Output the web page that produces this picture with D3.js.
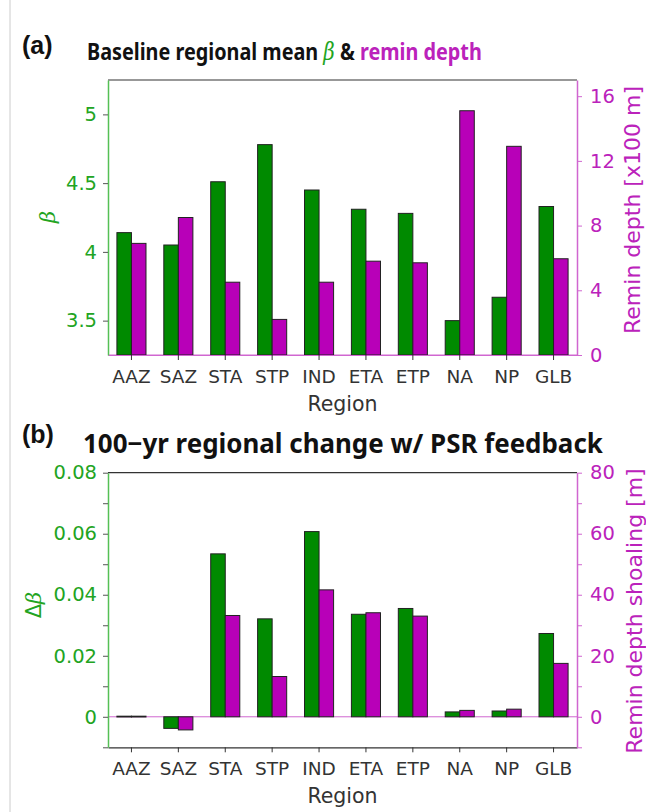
<!DOCTYPE html>
<html><head><meta charset="utf-8">
<script src="https://cdn.jsdelivr.net/npm/d3@7"></script>
<style>body{margin:0;background:#fff}svg{display:block}</style>
</head><body>
<script>
const regions = ["AAZ","SAZ","STA","STP","IND","ETA","ETP","NA","NP","GLB"];
const betaBase = [4.14,4.05,4.51,4.78,4.45,4.31,4.28,3.50,3.67,4.33];
const reminBase = [6.9,8.5,4.5,2.2,4.5,5.8,5.7,15.1,12.9,5.95];
const dBeta = [0.0002,-0.0038,0.0534,0.0321,0.0607,0.0336,0.0355,0.0016,0.0019,0.0273];
const dRemin = [0.2,-4.3,33.2,13.2,41.6,34.1,33.0,2.1,2.5,17.5];
const betaTicks = [3.5,4,4.5,5];
const reminTicks = [0,4,8,12,16];
const dBetaTicks = [0,0.02,0.04,0.06,0.08];
const dBetaMinor = [-0.01,0.01,0.03,0.05,0.07];
const dReminTicks = [0,20,40,60,80];
const dReminMinor = [-10,10,30,50,70];

const W=646,H=812;
const GREEN="#008a00", MAG="#b800b8", GTXT="#22a422", MTXT="#bb22bb", GAX="#55c055", MAX="#d066d0";
const FONT="DejaVu Sans, sans-serif";
const TFONT="Noto Sans, Open Sans, sans-serif";
const svg=d3.select("body").append("svg").attr("width",W).attr("height",H);
svg.append("line").attr("x1",10).attr("x2",10).attr("y1",0).attr("y2",H).attr("stroke","#ccc");

const L=108,R=577;
const x=d3.scaleBand().domain(regions).range([L,R]).padding(0);
const bw=x.bandwidth()*0.31;

function panel(o){
  const g=svg.append("g");
  const yl=d3.scaleLinear().domain(o.ldom).range([o.bot,o.top]);
  const yr=d3.scaleLinear().domain(o.rdom).range([o.bot,o.top]);
  g.append("line").attr("x1",L).attr("x2",R).attr("y1",o.top).attr("y2",o.top).attr("stroke","#333").attr("stroke-width",1.2);
  g.append("line").attr("x1",L).attr("x2",R).attr("y1",yr(0)).attr("y2",yr(0)).attr("stroke",MAX).attr("stroke-width",1);
  const lb=o.lbase;
  g.selectAll(".gb").data(o.lv).join("rect")
    .attr("x",(d,i)=>x(regions[i])+x.bandwidth()/2-bw).attr("width",bw)
    .attr("y",d=>Math.min(yl(d),yl(lb))).attr("height",d=>Math.max(0.8,Math.abs(yl(d)-yl(lb))))
    .attr("fill",GREEN).attr("stroke","#222").attr("stroke-width",1);
  g.selectAll(".mb").data(o.rv).join("rect")
    .attr("x",(d,i)=>x(regions[i])+x.bandwidth()/2).attr("width",bw)
    .attr("y",d=>Math.min(yr(d),yr(0))).attr("height",d=>Math.max(0.8,Math.abs(yr(d)-yr(0))))
    .attr("fill",MAG).attr("stroke","#222").attr("stroke-width",1);
  const bx=g.append("g").attr("transform",`translate(0,${o.bot})`)
    .call(d3.axisBottom(x).tickSize(5).tickPadding(10).tickSizeOuter(0));
  bx.select(".domain").attr("stroke",o.botColor).attr("stroke-width",1.2);
  bx.selectAll(".tick line").attr("stroke","#333");
  bx.selectAll("text").attr("font-family",FONT).attr("font-size",18.5).attr("fill","#333");
  const la=g.append("g").attr("transform",`translate(${L},0)`)
    .call(d3.axisLeft(yl).tickValues(o.lticks.concat(o.lminor||[])).tickFormat(d=>o.lticks.includes(d)?o.lfmt(d):"").tickSize(5).tickPadding(6).tickSizeOuter(0));
  la.select(".domain").attr("stroke",GAX).attr("stroke-width",1.5);
  la.selectAll(".tick line").attr("stroke","#555");
  la.selectAll("text").attr("font-family",FONT).attr("font-size",19.5).attr("fill",GTXT);
  const ra=g.append("g").attr("transform",`translate(${R},0)`)
    .call(d3.axisRight(yr).tickValues(o.rticks.concat(o.rminor||[])).tickFormat(d=>o.rticks.includes(d)?d3.format("d")(d):"").tickSize(5).tickPadding(8).tickSizeOuter(0));
  ra.select(".domain").attr("stroke",MAX).attr("stroke-width",1.5);
  ra.selectAll(".tick line").attr("stroke",MAX);
  ra.selectAll("text").attr("font-family",FONT).attr("font-size",19.5).attr("fill",MTXT);
  g.append("text").attr("x",(L+R)/2).attr("y",o.bot+56).attr("text-anchor","middle")
    .attr("font-family",FONT).attr("font-size",20.5).attr("fill","#333").text("Region");
  g.append("text").attr("transform",`translate(${o.rlx},${o.rly}) rotate(-90)`).attr("text-anchor","middle")
    .attr("dominant-baseline","central").attr("font-family",FONT).attr("font-size",o.rls).attr("fill",MTXT).text(o.rlab);
  g.append("text").attr("transform",`translate(${o.llx},${o.lly}) rotate(-90)`).attr("text-anchor","middle")
    .attr("dominant-baseline","central").attr("font-family",FONT).attr("font-size",21).attr("fill",GTXT).html(o.llab);
  svg.append("text").attr("x",22).attr("y",o.letterY).attr("font-family","Liberation Sans, Arial, sans-serif")
    .attr("font-weight","bold").attr("font-size",25).attr("fill","#111").text(o.letter);
}

panel({top:80,bot:355,ldom:[3.25,5.25],rdom:[0,17],lbase:3.25,lv:betaBase,rv:reminBase,
  lticks:betaTicks,lfmt:d3.format(""),rticks:reminTicks,botColor:MAX,
  rlab:"Remin depth [x100 m]",rlx:632,rly:210,rls:22,
  llab:'<tspan font-style="italic" font-family="DejaVu Serif, serif">β</tspan>',llx:48,lly:217,letter:"(a)",letterY:54});
panel({top:472.7,bot:747.3,ldom:[-0.01,0.08],rdom:[-10,80],lbase:0,lv:dBeta,rv:dRemin,
  lticks:dBetaTicks,lminor:dBetaMinor,lfmt:d=>d===0?"0":d3.format(".2f")(d),rticks:dReminTicks,rminor:dReminMinor,botColor:"#333",
  rlab:"Remin depth shoaling [m]",rlx:634,rly:611,rls:22,
  llab:'Δ<tspan font-style="italic" font-family="DejaVu Serif, serif">β</tspan>',llx:34,lly:605,letter:"(b)",letterY:443});

function fit(sel,target){
  const fs=+sel.attr("font-size");
  const w=sel.node().getComputedTextLength();
  if(w>0) sel.attr("font-size",fs*target/w);
}
const t1=svg.append("text").attr("transform","translate(87,60) scale(1,1.2)").attr("x",0).attr("y",0)
  .attr("font-family",TFONT).attr("font-weight","bold").attr("font-size",20).attr("fill","#111");
t1.append("tspan").text("Baseline regional mean ");
t1.append("tspan").attr("fill",GTXT).attr("font-style","italic").attr("font-weight","normal").attr("font-family","DejaVu Serif, serif").text("β");
t1.append("tspan").text(" & ");
t1.append("tspan").attr("fill",MTXT).text("remin depth");
fit(t1,395);
const t2=svg.append("text").attr("x",83).attr("y",453).attr("font-family",TFONT).attr("font-weight","bold").attr("font-size",22).attr("fill","#111")
  .text("100−yr regional change w/ PSR feedback");
fit(t2,520);
</script>
</body></html>
